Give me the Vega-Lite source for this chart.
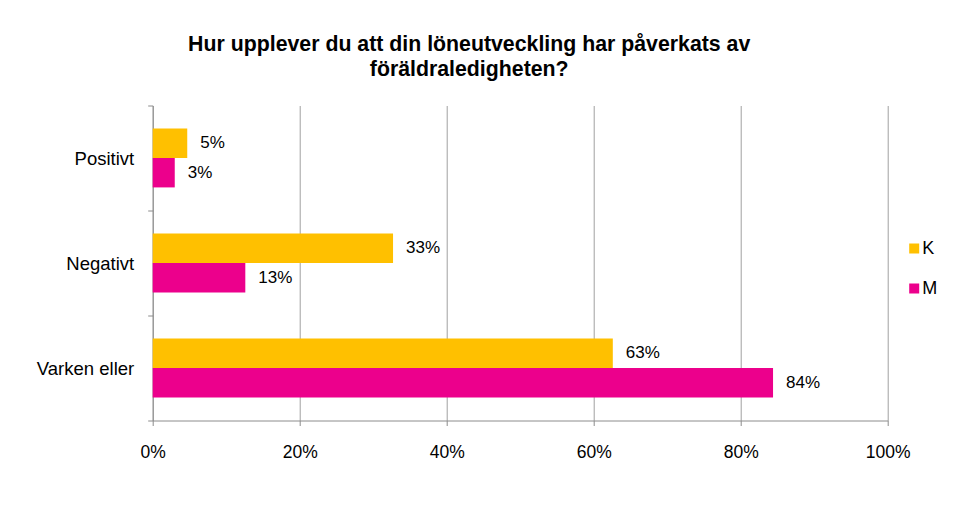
{
  "$schema": "https://vega.github.io/schema/vega-lite/v6.json",
  "width": 735,
  "height": 315,
  "autosize": {"type": "none"},
  "padding": {"left": 152.7, "top": 105.5, "right": 88.3, "bottom": 90.5},
  "background": "white",
  "title": {
    "text": ["Hur upplever du att din löneutveckling har påverkats av", "föräldraledigheten?"],
    "font": "Liberation Sans",
    "fontSize": 21.3,
    "fontWeight": "bold",
    "color": "#000000",
    "lineHeight": 25,
    "anchor": "middle",
    "dx": -51,
    "offset": 16
  },
  "data": {
    "values": [
      {"kategori": "Positivt", "kon": "K", "andel": 0.047},
      {"kategori": "Positivt", "kon": "M", "andel": 0.030},
      {"kategori": "Negativt", "kon": "K", "andel": 0.327},
      {"kategori": "Negativt", "kon": "M", "andel": 0.126},
      {"kategori": "Varken eller", "kon": "K", "andel": 0.626},
      {"kategori": "Varken eller", "kon": "M", "andel": 0.844}
    ]
  },
  "encoding": {
    "y": {
      "field": "kategori",
      "type": "nominal",
      "sort": ["Positivt", "Negativt", "Varken eller"],
      "scale": {"paddingInner": 0, "paddingOuter": 0},
      "axis": {
        "title": null,
        "tickBand": "extent",
        "domainColor": "#8C8C8C",
        "tickColor": "#8C8C8C",
        "tickSize": 5,
        "labelPadding": 14,
        "labelFont": "Liberation Sans",
        "labelFontSize": 18.5,
        "labelColor": "#000000"
      }
    },
    "yOffset": {
      "field": "kon",
      "type": "nominal",
      "sort": ["K", "M"],
      "scale": {"paddingInner": 0, "paddingOuter": 0.785}
    },
    "x": {
      "field": "andel",
      "type": "quantitative",
      "scale": {"domain": [0, 1], "nice": false},
      "axis": {
        "title": null,
        "format": ".0%",
        "values": [0, 0.2, 0.4, 0.6, 0.8, 1],
        "grid": true,
        "gridColor": "#A0A0A0",
        "domain": true,
        "domainColor": "#8C8C8C",
        "domainWidth": 1,
        "tickColor": "#8C8C8C",
        "tickSize": 5,
        "labelFlush": false,
        "labelPadding": 18,
        "labelFont": "Liberation Sans",
        "labelFontSize": 17.5,
        "labelColor": "#000000"
      }
    }
  },
  "layer": [
    {
      "mark": {"type": "bar"},
      "encoding": {
        "color": {
          "field": "kon",
          "type": "nominal",
          "scale": {"domain": ["K", "M"], "range": ["#FFC000", "#EC008C"]},
          "legend": {
            "title": null,
            "orient": "none",
            "legendX": 752.5,
            "legendY": 134,
            "symbolType": "square",
            "symbolSize": 100,
            "symbolStrokeWidth": 0,
            "symbolOpacity": 1,
            "labelFont": "Liberation Sans",
            "labelFontSize": 18,
            "labelColor": "#000000",
            "labelOffset": -1,
            "rowPadding": 22
          }
        }
      }
    },
    {
      "mark": {
        "type": "text",
        "align": "left",
        "baseline": "middle",
        "dx": 13,
        "font": "Liberation Sans",
        "fontSize": 17,
        "color": "#000000"
      },
      "encoding": {
        "text": {"field": "andel", "type": "quantitative", "format": ".0%"}
      }
    }
  ],
  "config": {
    "view": {"stroke": null}
  }
}
